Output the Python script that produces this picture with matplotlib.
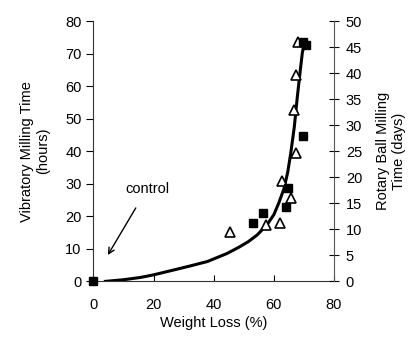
import matplotlib
matplotlib.use('Agg')
import matplotlib.pyplot as plt

plt.rcParams['font.family'] = ['Liberation Sans', 'DejaVu Sans']

# Datos
vib_x = [0, 53.1, 56.4, 64.1, 64.7, 69.8, 69.6, 70.7]
vib_h = [0, 17.9, 20.9, 22.9, 28.6, 44.6, 73.6, 72.6]

rot_x = [45.5, 57.3, 62.0, 62.6, 65.6, 67.2, 66.7, 67.2, 68.0]
rot_h = [15.3, 17.2, 17.9, 30.9, 25.5, 39.5, 52.6, 63.3, 73.6]

curva_x = [4, 10, 15.6, 20, 26.7, 32, 37.9, 44.5, 48.4, 51.5, 54.5, 57.8,
           60.0, 61.6, 63.3, 64.6, 65.6, 66.8, 67.8, 68.8, 69.5, 70.3]
curva_h = [0, 0.5, 1.2, 2.0, 3.5, 4.7, 6.1, 8.6, 10.5, 12.2, 14.3, 17.5,
           20.5, 24.0, 28.3, 33.5, 39.3, 47.5, 56.7, 65.0, 70.5, 73.5]

fig = plt.figure(figsize=(4.17, 3.39), dpi=100)
ax = fig.add_axes([0.224, 0.170, 0.577, 0.768])

ax.plot(curva_x, curva_h, color='black', lw=2.2, zorder=2)
ax.plot(rot_x, rot_h, ls='none', marker='^', ms=7, mfc='white', mec='black',
        mew=1.2, zorder=3)
ax.plot(vib_x, vib_h, ls='none', marker='s', ms=5.8, color='black',
        clip_on=False, zorder=4)

ax.set_xlim(0, 80)
ax.set_ylim(0, 80)
ax.set_xticks([0, 20, 40, 60, 80])
ax.set_yticks(range(0, 81, 10))
ax.spines['top'].set_visible(False)
ax.spines['right'].set_visible(False)
for s in ['left', 'bottom']:
    ax.spines[s].set_color('#333333')
ax.tick_params(axis='x', direction='in', length=4, labelsize=10.5, pad=12)
ax.tick_params(axis='y', direction='out', length=5, labelsize=10.5)
ax.set_xlabel('Weight Loss (%)', fontsize=10.5, labelpad=3)
ax.set_ylabel('Vibratory Milling Time\n(hours)', fontsize=10.5, labelpad=11)

ax.annotate('control', xy=(4.8, 8.1), xytext=(17.9, 28.5),
            ha='center', va='center', fontsize=10.5,
            arrowprops=dict(arrowstyle='->', color='black', lw=1,
                            shrinkA=8, shrinkB=0))

ax2 = ax.twinx()
ax2.set_ylim(0, 50)
ax2.set_yticks(range(0, 51, 5))
ax2.spines['top'].set_visible(False)
ax2.spines['left'].set_visible(False)
ax2.spines['bottom'].set_visible(False)
ax2.spines['right'].set_color('#555555')
ax2.tick_params(axis='y', direction='inout', length=7, labelsize=10.5, pad=5)
ax2.set_ylabel('Rotary Ball Milling\nTime (days)', fontsize=10.5, labelpad=10)

fig.savefig('out.png', dpi=100)
